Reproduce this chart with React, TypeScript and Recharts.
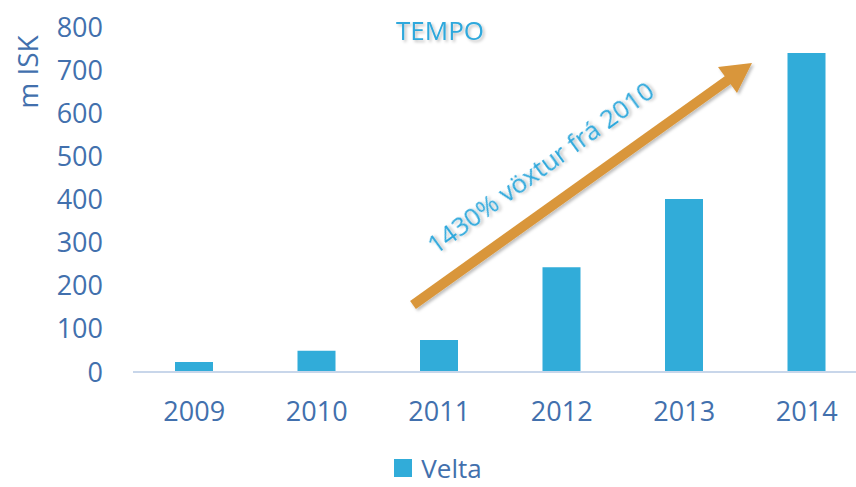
import { Bar, BarChart, Customized, Legend, XAxis, YAxis } from 'recharts';

// Ár og velta (m ISK), lesið af myndinni
const years = ['2009', '2010', '2011', '2012', '2013', '2014'];
const velta = [23, 49, 74, 243, 401, 740];
const yTicks = [0, 100, 200, 300, 400, 500, 600, 700, 800];

const data = years.map((year, i) => ({ year, velta: velta[i] }));

const FONT = '"Open Sans", sans-serif';
const TICK_BLUE = '#4270ad';
const BAR_BLUE = '#31acd9';
const TEXT_BLUE = '#2ea8dc';
const ORANGE = '#d9963a';

const Annotations = () => (
  <g>
    <defs>
      <filter id="shadow" x="-20%" y="-20%" width="140%" height="140%">
        <feDropShadow dx="2" dy="2" stdDeviation="1.5" floodColor="#000" floodOpacity="0.25" />
      </filter>
    </defs>
    {/* titill */}
    <text x={440} y={40} textAnchor="middle" fontFamily={FONT} fontSize={26} fill={TEXT_BLUE} filter="url(#shadow)">
      TEMPO
    </text>
    {/* y-ás heiti */}
    <text
      x={0}
      y={0}
      transform="translate(38, 72) rotate(-90)"
      textAnchor="middle"
      fontFamily={FONT}
      fontSize={28}
      fill={TICK_BLUE}
    >
      m ISK
    </text>
    {/* ör */}
    <g filter="url(#shadow)">
      <line x1={413} y1={305} x2={735} y2={75} stroke={ORANGE} strokeWidth={10} />
      <polygon points="752,63 737,93 718,67" fill={ORANGE} />
    </g>
    <text
      x={0}
      y={0}
      transform="translate(540, 167) rotate(-36)"
      textAnchor="middle"
      dominantBaseline="central"
      fontFamily={FONT}
      fontSize={26}
      fill={TEXT_BLUE}
      filter="url(#shadow)"
    >
      1430% vöxtur frá 2010
    </text>
  </g>
);

const LegendContent = () => (
  <div
    style={{
      height: 36,
      display: 'flex',
      alignItems: 'center',
      justifyContent: 'center',
      fontFamily: FONT,
      fontSize: 26,
      color: TICK_BLUE,
    }}
  >
    <span style={{ width: 18, height: 18, background: BAR_BLUE, marginRight: 9, display: 'inline-block' }} />
    <span>Velta</span>
  </div>
);

export default function App() {
  return (
    <div style={{ position: 'fixed', left: 0, top: 0, width: 856, height: 487, overflow: 'hidden', background: '#fff' }}>
      <BarChart width={880} height={487} data={data} margin={{ top: 27, right: 12, left: 0, bottom: 49 }}>
        <XAxis
          dataKey="year"
          height={30}
          axisLine={{ stroke: '#c8d6ea', strokeWidth: 2 }}
          tickLine={false}
          tickSize={0}
          tickMargin={30}
          tick={{ fill: TICK_BLUE, fontSize: 27, fontFamily: FONT }}
        />
        <YAxis
          width={133}
          domain={[0, 800]}
          ticks={yTicks}
          axisLine={false}
          tickLine={false}
          tickSize={0}
          tickMargin={30}
          tick={{ fill: TICK_BLUE, fontSize: 27, fontFamily: FONT }}
        />
        <Legend
          verticalAlign="bottom"
          content={<LegendContent />}
          wrapperStyle={{ top: 450, left: 0, width: 876, height: 36 }}
        />
        <Bar dataKey="velta" name="Velta" fill={BAR_BLUE} barSize={38} isAnimationActive={false} />
        <Customized component={Annotations} />
      </BarChart>
    </div>
  );
}
